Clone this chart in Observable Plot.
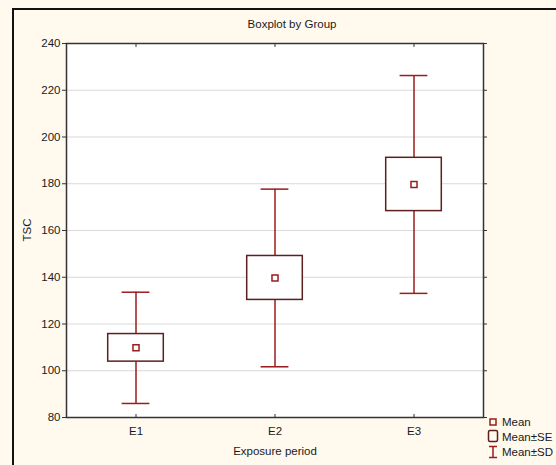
<!DOCTYPE html>
<html>
<head>
<meta charset="utf-8">
<script src="https://cdn.jsdelivr.net/npm/d3@7"></script>
<script src="https://cdn.jsdelivr.net/npm/@observablehq/plot@0.6"></script>
<style>
  html, body { margin: 0; padding: 0; background: #fff9ee; }
  #wrap { position: relative; width: 556px; height: 465px; overflow: hidden; background: #fff9ee;
          font-family: "Liberation Sans", Arial, sans-serif; color: #1a1a1a; }
  #wrap svg.chart { position: absolute; left: 0; top: 0; }
  .border { position: absolute; left: 12px; top: 8px; right: -10px; bottom: -10px;
            border-left: 2px solid #111; border-top: 2px solid #111; pointer-events: none; }
  .lbl { position: absolute; font-size: 11.5px; white-space: nowrap; }
</style>
</head>
<body>
<div id="wrap">
  <div class="border"></div>
</div>
<script>
// ---- data ----
const groups = ["E1", "E2", "E3"];
const means  = [109.8, 139.7, 179.7];
const seVals = [5.9, 9.4, 11.4];
const sdVals = [23.8, 38.0, 46.6];
const yTicks = [80, 100, 120, 140, 160, 180, 200, 220, 240];
const title = "Boxplot by Group";
const xTitle = "Exposure period";
const yTitle = "TSC";
const legendLabels = ["Mean", "Mean\u00B1SE", "Mean\u00B1SD"];

const data = groups.map((g, k) => ({ g, i: k + 1, mean: means[k], se: seVals[k], sd: sdVals[k] }));

const whisker = "#9b1c1c";
const boxStroke = "#5e1f1f";
const boxHalf = 0.2, capHalf = 0.1;

const chart = Plot.plot({
  width: 556,
  height: 465,
  marginLeft: 66,
  marginRight: 73,
  marginTop: 43,
  marginBottom: 48,
  x: { type: "linear", domain: [0.5, 3.5] },
  y: { domain: [80, 240] },
  style: { background: "transparent", fontFamily: "'Liberation Sans', Arial, sans-serif", fontSize: "11.5px", color: "#1a1a1a" },
  marks: [
    Plot.frame({ fill: "white" }),
    Plot.gridY(yTicks.slice(1, -1), { stroke: "#d9d9d9", strokeOpacity: 1 }),
    // whiskers (SD)
    Plot.ruleX(data, { x: "i", y1: d => d.mean + d.se, y2: d => d.mean + d.sd, stroke: whisker, strokeWidth: 1.5 }),
    Plot.ruleX(data, { x: "i", y1: d => d.mean - d.se, y2: d => d.mean - d.sd, stroke: whisker, strokeWidth: 1.5 }),
    Plot.ruleY(data, { y: d => d.mean + d.sd, x1: d => d.i - capHalf, x2: d => d.i + capHalf, stroke: whisker, strokeWidth: 1.5 }),
    Plot.ruleY(data, { y: d => d.mean - d.sd, x1: d => d.i - capHalf, x2: d => d.i + capHalf, stroke: whisker, strokeWidth: 1.5 }),
    // SE boxes
    Plot.rect(data, { x1: d => d.i - boxHalf, x2: d => d.i + boxHalf, y1: d => d.mean - d.se, y2: d => d.mean + d.se,
                      fill: "white", stroke: boxStroke, strokeWidth: 1.5 }),
    // mean markers
    Plot.dot(data, { x: "i", y: "mean", symbol: "square", r: 3.4, stroke: whisker, fill: "white", strokeWidth: 1.5 }),
    // axes
    Plot.axisY({ ticks: yTicks, tickSize: 4, tickPadding: 2, label: null, stroke: "#333", fill: "#1a1a1a", fontSize: 11.5 }),
    Plot.axisY({ anchor: "right", ticks: yTicks, tickSize: 3, tickFormat: () => "", label: null, stroke: "#333" }),
    Plot.axisX({ ticks: [1, 2, 3], tickSize: -3, tickFormat: () => "", label: null, stroke: "#333" }),
    Plot.axisX({ anchor: "top", ticks: [1, 2, 3], tickSize: -3, tickFormat: () => "", label: null, stroke: "#333" }),
    Plot.axisX({ ticks: [1, 2, 3], tickSize: 0, tickPadding: 9, tickFormat: i => groups[i - 1], label: null, fill: "#1a1a1a", fontSize: 11.5 }),
    Plot.frame({ stroke: "#333", strokeWidth: 1.5 })
  ]
});
chart.classList.add("chart");
const wrap = document.getElementById("wrap");
wrap.insertBefore(chart, wrap.firstChild);

function addLabel(text, css) {
  const el = document.createElement("div");
  el.className = "lbl";
  el.textContent = text;
  Object.assign(el.style, css);
  wrap.appendChild(el);
  return el;
}
addLabel(title, { left: "292px", top: "18px", transform: "translateX(-50%)" });
addLabel(xTitle, { left: "275px", top: "445px", transform: "translateX(-50%)" });
addLabel(yTitle, { left: "27px", top: "230px", transform: "translate(-50%,-50%) rotate(-90deg)" });

// legend
const ns = "http://www.w3.org/2000/svg";
const leg = document.createElementNS(ns, "svg");
leg.setAttribute("width", 80);
leg.setAttribute("height", 50);
Object.assign(leg.style, { position: "absolute", left: "484px", top: "414px", overflow: "visible" });
leg.innerHTML = `
  <rect x="6" y="5" width="6" height="6" fill="none" stroke="${whisker}" stroke-width="1.5"/>
  <rect x="4.5" y="16.5" width="9" height="11" rx="1.5" fill="none" stroke="${boxStroke}" stroke-width="1.5"/>
  <g stroke="${whisker}" stroke-width="1.5"><line x1="5" x2="13" y1="32.5" y2="32.5"/><line x1="9" x2="9" y1="32.5" y2="43.5"/><line x1="5" x2="13" y1="43.5" y2="43.5"/></g>
  <g font-family="'Liberation Sans', Arial, sans-serif" font-size="11.5" fill="#1a1a1a">
    <text x="18" y="12">${legendLabels[0]}</text>
    <text x="18" y="27">${legendLabels[1]}</text>
    <text x="18" y="42">${legendLabels[2]}</text>
  </g>`;
wrap.appendChild(leg);
</script>
</body>
</html>
